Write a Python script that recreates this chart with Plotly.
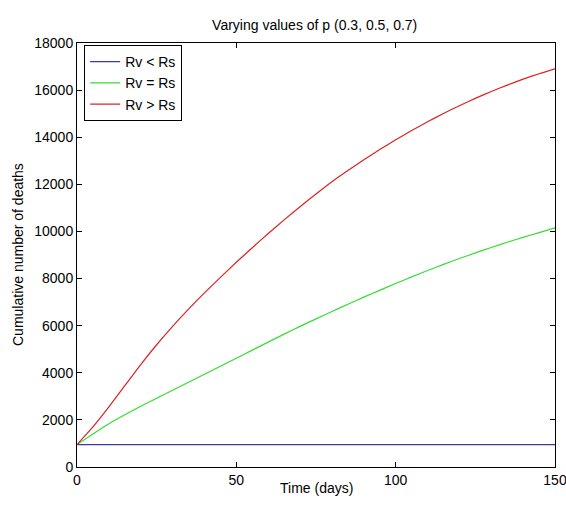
import plotly.graph_objects as go

# Time axis (days)
days = [0, 5, 10, 15, 20, 25, 30, 35, 40, 45, 50, 55, 60, 65, 70, 75,
        80, 85, 90, 95, 100, 105, 110, 115, 120, 125, 130, 135, 140, 145, 150]

# Cumulative deaths for the three relative-rate scenarios
deaths_rv_lt_rs = [950] * len(days)
deaths_rv_eq_rs = [950, 1400, 1840, 2220, 2580, 2920, 3260, 3600, 3940, 4280,
                   4620, 4960, 5300, 5640, 5970, 6290, 6600, 6910, 7210, 7500,
                   7790, 8070, 8340, 8600, 8850, 9090, 9320, 9540, 9750, 9950,
                   10150]
deaths_rv_gt_rs = [950, 1700, 2550, 3450, 4350, 5190, 5970, 6700, 7390, 8050,
                   8690, 9310, 9910, 10490, 11050, 11590, 12110, 12585, 13040,
                   13474, 13888, 14281, 14654, 15007, 15339, 15651, 15943,
                   16214, 16465, 16695, 16905]

series_names = ["Rv < Rs", "Rv = Rs", "Rv > Rs"]
series_colors = ["#3b3b9e", "#33dd33", "#dd2222"]

x_ticks = [0, 50, 100, 150]
y_ticks = list(range(0, 18001, 2000))
y_tick_labels = [str(v) for v in y_ticks]

FONT = "Liberation Sans, Arial, sans-serif"
PLOT_L, PLOT_R, PLOT_T, PLOT_B = 77, 11, 43, 46
W, H = 566, 513
plot_w = W - PLOT_L - PLOT_R
plot_h = H - PLOT_T - PLOT_B

fig = go.Figure()
for name, color, ys in zip(series_names, series_colors,
                           [deaths_rv_lt_rs, deaths_rv_eq_rs, deaths_rv_gt_rs]):
    fig.add_trace(go.Scatter(x=days, y=ys, mode="lines", name=name,
                             line=dict(color=color, width=1.2, shape="spline",
                                       smoothing=0.6)))

axis_common = dict(showline=True, linecolor="black", linewidth=1,
                   mirror="ticks", ticks="inside", ticklen=5, tickcolor="black",
                   showgrid=False, zeroline=False, ticklabeloverflow="allow",
                   automargin=False,
                   tickfont=dict(family=FONT, size=14, color="black"))

fig.update_layout(
    width=W, height=H,
    margin=dict(l=PLOT_L, r=PLOT_R, t=PLOT_T, b=PLOT_B),
    paper_bgcolor="white", plot_bgcolor="white",
    title=dict(text="Varying values of p (0.3, 0.5, 0.7)",
               x=0.556, xanchor="center", y=0.951, yanchor="middle",
               font=dict(family=FONT, size=14, color="black")),
    xaxis=dict(range=[0, 150], tickvals=x_ticks,
               ticktext=[str(v) for v in x_ticks], **axis_common),
    yaxis=dict(range=[0, 18000], tickvals=y_ticks, ticktext=y_tick_labels,
               **axis_common),
    legend=dict(x=0.015, y=0.995, xanchor="left", yanchor="top",
                bordercolor="black", borderwidth=1, bgcolor="white",
                font=dict(family=FONT, size=14, color="black"),
                tracegroupgap=0, itemwidth=30),
    showlegend=True,
)

# Axis titles placed as annotations in paper coordinates
fig.add_annotation(text="Time (days)", xref="paper", yref="paper",
                   x=0.5, y=-(488 - (H - PLOT_B)) / plot_h,
                   xanchor="center", yanchor="middle", showarrow=False,
                   font=dict(family=FONT, size=14, color="black"))
fig.add_annotation(text="Cumulative number of deaths", xref="paper", yref="paper",
                   x=-(PLOT_L - 18) / plot_w, y=0.5, textangle=-90,
                   xanchor="center", yanchor="middle", showarrow=False,
                   font=dict(family=FONT, size=14, color="black"))

fig.write_html("out.html")
